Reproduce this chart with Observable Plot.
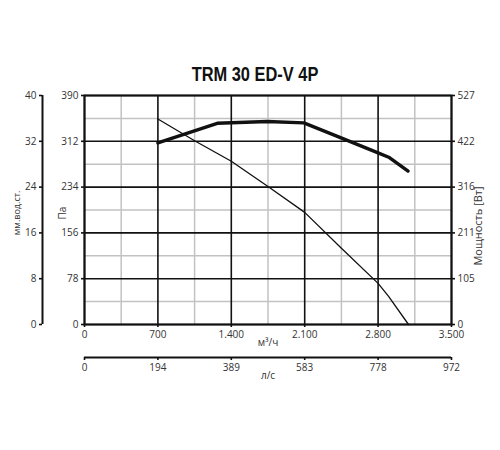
<!DOCTYPE html>
<html><head><meta charset="utf-8">
<script src="https://cdn.jsdelivr.net/npm/d3@7"></script>
<script src="https://cdn.jsdelivr.net/npm/@observablehq/plot@0.6"></script>
<style>
body{margin:0;background:#fff;width:500px;height:450px;overflow:hidden}
#title{position:relative;height:88px}
#title span{position:absolute;left:255px;top:62px;line-height:24px;transform:translateX(-50%) scaleX(0.82);white-space:nowrap;
  font-family:"Liberation Sans",Arial,sans-serif;font-weight:bold;font-size:20px;color:#111}
svg{display:block}
</style>
</head><body>
<div id="title"><span>TRM 30 ED-V 4P</span></div>
<div id="chart"></div>
<script>
// Axis ticks and labels
const qTicks = [0, 700, 1400, 2100, 2800, 3500];
const qTickLabels = ["0", "700", "1.400", "2.100", "2.800", "3.500"];
const qMinor = [350, 1050, 1750, 2450, 3150];
const lsTickLabels = ["0", "194", "389", "583", "778", "972"];
const paTicks = [0, 78, 156, 234, 312, 390];
const paMinor = [39, 117, 195, 273, 351];
const mmTickLabels = ["0", "8", "16", "24", "32", "40"];
const wTickLabels = ["0", "105", "211", "316", "422", "527"];
const paMax = 390, wMax = 527;

// Pressure curve (Pa) vs flow (m³/h)
const pressQ  = [700, 1050, 1400, 1750, 2100, 2450, 2800, 2900, 3090];
const pressPa = [350, 313, 278, 235, 191, 130, 70, 48, 0];

// Power curve (W) vs flow (m³/h)
const powerQ = [700, 1266, 1742, 2092, 2441, 2800, 2901, 3086];
const powerW = [418, 463, 467, 464, 430, 395, 385, 353];

const pressure = pressQ.map((q, i) => ({q, v: pressPa[i]}));
const power = powerQ.map((q, i) => ({q, v: powerW[i]}));

const lab = (arr) => (d) => arr[paTicks.indexOf(d)];
const qlab = (arr) => (d) => arr[qTicks.indexOf(d)];

const chart = Plot.plot({
  width: 500,
  height: 362,
  marginTop: 7,
  marginBottom: 126,
  marginLeft: 84,
  marginRight: 49,
  style: {fontFamily: "'Open Sans', sans-serif", fontSize: "10px", color: "#333", background: "#fff"},
  x: {domain: [0, 3500]},
  y: {domain: [0, 390]},
  marks: [
    Plot.ruleX(qMinor, {stroke: "#c2c2c2", strokeWidth: 1.5}),
    Plot.ruleY(paMinor, {stroke: "#c2c2c2", strokeWidth: 1.5}),
    Plot.ruleX(qTicks, {stroke: "#111", strokeWidth: 1.6}),
    Plot.ruleY(paTicks, {stroke: "#111", strokeWidth: 1.6}),
    Plot.frame({stroke: "#111", strokeWidth: 2}),
    Plot.line(pressure, {x: "q", y: "v", stroke: "#111", strokeWidth: 1.3}),
    Plot.line(power, {x: "q", y: d => d.v * paMax / wMax, stroke: "#111", strokeWidth: 3.4, strokeLinejoin: "round"}),
    // main x axis (m³/h)
    Plot.axisX(qTicks, {anchor: "bottom", tickSize: 3, tickPadding: 3, tickFormat: qlab(qTickLabels), label: null, stroke: "#111", strokeWidth: 1.6}),
    Plot.text(["м³/ч"], {text: d => d, frameAnchor: "bottom", dy: 21, fill: "#333"}),
    // secondary x axis (l/s)
    Plot.ruleY([0], {dy: 33, stroke: "#111", strokeWidth: 2}),
    Plot.axisX(qTicks, {anchor: "bottom", dy: 33, tickSize: 3, tickPadding: 3, tickFormat: qlab(lsTickLabels), label: null, stroke: "#111", strokeWidth: 1.6}),
    Plot.text(["л/с"], {text: d => d, frameAnchor: "bottom", dy: 54, fill: "#333"}),
    // Pa axis
    Plot.axisY(paTicks, {anchor: "left", tickSize: 3, tickPadding: 3, label: null, stroke: "#111", strokeWidth: 1.6}),
    Plot.text(["Па"], {text: d => d, frameAnchor: "left", rotate: -90, textAnchor: "middle", dx: -22, dy: 3, fill: "#333"}),
    // mm w.c. axis
    Plot.ruleX([0], {dx: -42, stroke: "#111", strokeWidth: 2}),
    Plot.axisY(paTicks, {anchor: "left", dx: -42, tickSize: 3, tickPadding: 3, tickFormat: lab(mmTickLabels), label: null, stroke: "#111", strokeWidth: 1.6}),
    Plot.text(["мм.вод.ст."], {text: d => d, frameAnchor: "left", rotate: -90, textAnchor: "middle", dx: -67, dy: 3, fontSize: 9, fill: "#333"}),
    // power axis
    Plot.axisY(paTicks, {anchor: "right", tickSize: 3, tickPadding: 3, tickFormat: lab(wTickLabels), label: null, stroke: "#111", strokeWidth: 1.6}),
    Plot.text(["Мощность [Вт]"], {text: d => d, frameAnchor: "right", rotate: -90, textAnchor: "middle", dx: 27, dy: 16, fontSize: 11, fill: "#333"})
  ]
});
document.getElementById("chart").appendChild(chart);
</script>
</body></html>
